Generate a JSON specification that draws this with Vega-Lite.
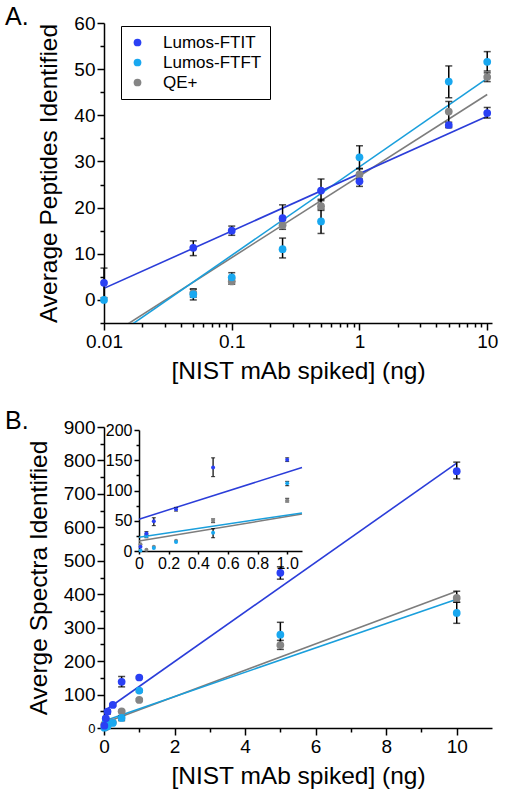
{
  "$schema": "https://vega.github.io/schema/vega-lite/v6.json",
  "background": "white",
  "padding": {"left": 5, "top": 5, "right": 5, "bottom": 5},
  "spacing": 26,
  "config": {
    "font": "Liberation Sans",
    "view": {"stroke": null},
    "axis": {
      "grid": false,
      "domainColor": "black",
      "domainWidth": 1.5,
      "tickColor": "black",
      "tickWidth": 1.5,
      "tickSize": 7,
      "labelColor": "black",
      "titleColor": "black",
      "labelFont": "Liberation Sans",
      "titleFont": "Liberation Sans",
      "labelFontSize": 19,
      "titleFontSize": 24.5,
      "titleFontWeight": "normal",
      "labelPadding": 2
    },
    "title": {"font": "Liberation Sans", "fontSize": 25, "fontWeight": "normal", "color": "black", "anchor": "start", "frame": "group"},
    "legend": {"labelFont": "Liberation Sans"}
  },
  "datasets": {
    "points": [
      {"panel": "A", "series": "QE+", "x": 0.05, "y": 1.5, "lo": 0.6, "hi": 2.4},
      {"panel": "A", "series": "QE+", "x": 0.1, "y": 4.0, "lo": 3.4, "hi": 4.6},
      {"panel": "A", "series": "QE+", "x": 0.25, "y": 16.2, "lo": 15.3, "hi": 17.2},
      {"panel": "A", "series": "QE+", "x": 0.5, "y": 20.3, "lo": 19.4, "hi": 21.8},
      {"panel": "A", "series": "QE+", "x": 1, "y": 27.2, "lo": 26.2, "hi": 28.4},
      {"panel": "A", "series": "QE+", "x": 5, "y": 40.8, "lo": 37.5, "hi": 43.0},
      {"panel": "A", "series": "QE+", "x": 10, "y": 48.3, "lo": 47.3, "hi": 49.2},
      {"panel": "A", "series": "Lumos-FTFT", "x": 0.01, "y": 0.0, "lo": null, "hi": null},
      {"panel": "A", "series": "Lumos-FTFT", "x": 0.05, "y": 1.2, "lo": 0.0, "hi": 2.3},
      {"panel": "A", "series": "Lumos-FTFT", "x": 0.1, "y": 4.9, "lo": 4.0, "hi": 5.9},
      {"panel": "A", "series": "Lumos-FTFT", "x": 0.25, "y": 11.0, "lo": 9.1, "hi": 13.4},
      {"panel": "A", "series": "Lumos-FTFT", "x": 0.5, "y": 17.0, "lo": 14.4, "hi": 19.7},
      {"panel": "A", "series": "Lumos-FTFT", "x": 1, "y": 30.9, "lo": 28.5, "hi": 33.4},
      {"panel": "A", "series": "Lumos-FTFT", "x": 5, "y": 47.3, "lo": 43.8, "hi": 50.7},
      {"panel": "A", "series": "Lumos-FTFT", "x": 10, "y": 51.6, "lo": 49.6, "hi": 53.8},
      {"panel": "A", "series": "Lumos-FTIT", "x": 0.01, "y": 3.7, "lo": 0.5, "hi": 6.9},
      {"panel": "A", "series": "Lumos-FTIT", "x": 0.05, "y": 11.3, "lo": 9.6, "hi": 12.8},
      {"panel": "A", "series": "Lumos-FTIT", "x": 0.1, "y": 15.0, "lo": 14.0, "hi": 16.0},
      {"panel": "A", "series": "Lumos-FTIT", "x": 0.25, "y": 17.7, "lo": 16.2, "hi": 20.6},
      {"panel": "A", "series": "Lumos-FTIT", "x": 0.5, "y": 23.7, "lo": 21.5, "hi": 26.2},
      {"panel": "A", "series": "Lumos-FTIT", "x": 1, "y": 25.7, "lo": 24.6, "hi": 27.4},
      {"panel": "A", "series": "Lumos-FTIT", "x": 5, "y": 37.9, "lo": 37.3, "hi": 38.5},
      {"panel": "A", "series": "Lumos-FTIT", "x": 10, "y": 40.5, "lo": 39.4, "hi": 41.7},
      {"panel": "B", "series": "QE+", "x": 0.01, "y": 11, "lo": null, "hi": null},
      {"panel": "B", "series": "QE+", "x": 0.05, "y": 2, "lo": null, "hi": null},
      {"panel": "B", "series": "QE+", "x": 0.1, "y": 7, "lo": null, "hi": null},
      {"panel": "B", "series": "QE+", "x": 0.25, "y": 17, "lo": null, "hi": null},
      {"panel": "B", "series": "QE+", "x": 0.5, "y": 50, "lo": 47, "hi": 53},
      {"panel": "B", "series": "QE+", "x": 1, "y": 84, "lo": 81, "hi": 87},
      {"panel": "B", "series": "QE+", "x": 5, "y": 248, "lo": 235, "hi": 262},
      {"panel": "B", "series": "QE+", "x": 10, "y": 389, "lo": 376, "hi": 409},
      {"panel": "B", "series": "Lumos-FTFT", "x": 0.01, "y": 1, "lo": null, "hi": null},
      {"panel": "B", "series": "Lumos-FTFT", "x": 0.05, "y": 25, "lo": 22, "hi": 28},
      {"panel": "B", "series": "Lumos-FTFT", "x": 0.1, "y": 5, "lo": null, "hi": null},
      {"panel": "B", "series": "Lumos-FTFT", "x": 0.25, "y": 15, "lo": null, "hi": null},
      {"panel": "B", "series": "Lumos-FTFT", "x": 0.5, "y": 30, "lo": 22, "hi": 37},
      {"panel": "B", "series": "Lumos-FTFT", "x": 1, "y": 112, "lo": 108, "hi": 115},
      {"panel": "B", "series": "Lumos-FTFT", "x": 5, "y": 279, "lo": 245, "hi": 316},
      {"panel": "B", "series": "Lumos-FTFT", "x": 10, "y": 344, "lo": 313, "hi": 376},
      {"panel": "B", "series": "Lumos-FTIT", "x": 0.01, "y": 7, "lo": null, "hi": null},
      {"panel": "B", "series": "Lumos-FTIT", "x": 0.05, "y": 29, "lo": 26, "hi": 32},
      {"panel": "B", "series": "Lumos-FTIT", "x": 0.1, "y": 49, "lo": 42, "hi": 55},
      {"panel": "B", "series": "Lumos-FTIT", "x": 0.25, "y": 69, "lo": 66, "hi": 72},
      {"panel": "B", "series": "Lumos-FTIT", "x": 0.5, "y": 138, "lo": 123, "hi": 154},
      {"panel": "B", "series": "Lumos-FTIT", "x": 1, "y": 151, "lo": 148, "hi": 154},
      {"panel": "B", "series": "Lumos-FTIT", "x": 5, "y": 464, "lo": 445, "hi": 482},
      {"panel": "B", "series": "Lumos-FTIT", "x": 10, "y": 768, "lo": 745, "hi": 795}
    ],
    "fits": [
      {"panel": "A", "line": "QE+", "x": 0.01, "y": -8.5},
      {"panel": "A", "line": "QE+", "x": 10, "y": 44.5},
      {"panel": "A", "line": "Lumos-FTFT", "x": 0.01, "y": -9.5},
      {"panel": "A", "line": "Lumos-FTFT", "x": 10, "y": 48.0},
      {"panel": "A", "line": "Lumos-FTIT", "x": 0.01, "y": 2.5},
      {"panel": "A", "line": "Lumos-FTIT", "x": 10, "y": 39.8},
      {"panel": "B", "line": "QE+", "x": 0, "y": 15},
      {"panel": "B", "line": "QE+", "x": 10, "y": 409},
      {"panel": "B", "line": "Lumos-FTFT", "x": 0, "y": 21},
      {"panel": "B", "line": "Lumos-FTFT", "x": 10, "y": 385},
      {"panel": "B", "line": "Lumos-FTIT", "x": 0, "y": 50},
      {"panel": "B", "line": "Lumos-FTIT", "x": 10, "y": 792},
      {"panel": "Binset", "line": "QE+", "x": 0, "y": 16.6},
      {"panel": "Binset", "line": "QE+", "x": 1.1, "y": 61},
      {"panel": "Binset", "line": "Lumos-FTFT", "x": 0, "y": 22.9},
      {"panel": "Binset", "line": "Lumos-FTFT", "x": 1.1, "y": 62.9},
      {"panel": "Binset", "line": "Lumos-FTIT", "x": 0, "y": 52.6},
      {"panel": "Binset", "line": "Lumos-FTIT", "x": 1.1, "y": 138}
    ]
  },
  "resolve": {"scale": {"fill": "independent", "stroke": "independent"}, "legend": {"fill": "independent", "stroke": "independent"}},
  "vconcat": [
    {
      "title": {"text": "A.", "dx": -99, "offset": -16},
      "width": 388,
      "height": 300,
      "encoding": {
        "x": {
          "field": "x", "type": "quantitative", "title": "[NIST mAb spiked] (ng)",
          "scale": {"type": "log", "domain": [0.01, 10.9], "nice": false},
          "axis": {
            "values": [0.01, 0.02, 0.03, 0.04, 0.05, 0.06, 0.07, 0.08, 0.09, 0.1, 0.2, 0.3, 0.4, 0.5, 0.6, 0.7, 0.8, 0.9, 1, 2, 3, 4, 5, 6, 7, 8, 9, 10],
            "labelExpr": "abs(log(datum.value)/LN10 - round(log(datum.value)/LN10)) < 0.000001 ? format(datum.value, '~g') : ''",
            "tickDash": {"condition": {"test": "abs(log(datum.value)/LN10 - round(log(datum.value)/LN10)) < 0.000001", "value": []}, "value": [4, 20]},
            "labelFlush": false,
            "labelOverlap": false,
            "titlePadding": 8
          }
        },
        "y": {
          "field": "y", "type": "quantitative", "title": "Average Peptides Identified",
          "scale": {"domain": [-5, 60], "nice": false, "zero": false},
          "axis": {
            "values": [-5, 0, 5, 10, 15, 20, 25, 30, 35, 40, 45, 50, 55, 60],
            "labelExpr": "datum.value % 10 === 0 ? datum.label : ''",
            "tickDash": {"condition": {"test": "datum.value % 10 === 0", "value": []}, "value": [4, 20]},
            "labelFlush": false,
            "labelOverlap": false,
            "titlePadding": 12
          }
        }
      },
      "layer": [
        {
          "data": {"name": "fits"},
          "transform": [{"filter": "datum.panel === 'A'"}],
          "mark": {"type": "line", "clip": true, "strokeWidth": 1.6},
          "encoding": {
            "stroke": {"field": "line", "type": "nominal", "legend": null,
              "scale": {"domain": ["QE+", "Lumos-FTFT", "Lumos-FTIT"], "range": ["#7d7d7d", "#1a9fdc", "#2b3dd9"]}}
          }
        },
        {
          "data": {"name": "points"},
          "transform": [{"filter": "datum.panel === 'A' && datum.lo != null"}],
          "mark": {"type": "errorbar", "ticks": {"size": 7, "color": "black", "thickness": 1.5}, "rule": {"color": "black", "strokeWidth": 1.5}},
          "encoding": {
            "y": {"field": "lo", "type": "quantitative", "title": "Average Peptides Identified"},
            "y2": {"field": "hi"}
          }
        },
        {
          "data": {"name": "points"},
          "transform": [{"filter": "datum.panel === 'A'"}],
          "mark": {"type": "circle", "size": 60, "opacity": 1},
          "encoding": {
            "fill": {"field": "series", "type": "nominal",
              "scale": {"domain": ["Lumos-FTIT", "Lumos-FTFT", "QE+"], "range": ["#2a40f4", "#19a8f0", "#858585"]},
              "legend": {"title": null, "orient": "none", "legendX": 17, "legendY": 3, "strokeColor": "black", "padding": 8,
                "labelFontSize": 17, "labelOffset": 17, "symbolType": "circle", "symbolSize": 60, "rowPadding": 2, "symbolStrokeWidth": 0}
            }
          }
        }
      ]
    },
    {
      "title": {"text": "B.", "dx": -99, "offset": -16},
      "width": 388,
      "height": 301,
      "resolve": {"scale": {"x": "independent", "y": "independent"}, "axis": {"x": "independent", "y": "independent"}},
      "layer": [
        {
          "encoding": {
            "x": {
              "field": "x", "type": "quantitative", "title": "[NIST mAb spiked] (ng)",
              "scale": {"domain": [0, 11], "nice": false},
              "axis": {
                "values": [0, 1, 2, 3, 4, 5, 6, 7, 8, 9, 10],
                "labelExpr": "datum.value % 2 === 0 ? datum.label : ''",
                "tickDash": {"condition": {"test": "datum.value % 2 === 0", "value": []}, "value": [4, 20]},
                "labelFlush": false,
                "labelOverlap": false,
                "titlePadding": 8
              }
            },
            "y": {
              "field": "y", "type": "quantitative", "title": "Averge Spectra Identified",
              "scale": {"domain": [0, 900], "nice": false},
              "axis": {
                "values": [0, 50, 100, 150, 200, 250, 300, 350, 400, 450, 500, 550, 600, 650, 700, 750, 800, 850, 900],
                "labelExpr": "datum.value % 100 === 0 ? datum.label : ''",
                "labelFontSize": {"condition": {"test": "datum.value === 0", "value": 13}, "value": 19},
                "tickDash": {"condition": {"test": "datum.value % 100 === 0", "value": []}, "value": [4, 20]},
                "labelFlush": false,
                "labelOverlap": false,
                "titlePadding": 12
              }
            }
          },
          "layer": [
            {
              "data": {"name": "fits"},
              "transform": [{"filter": "datum.panel === 'B'"}],
              "mark": {"type": "line", "strokeWidth": 1.6},
              "encoding": {
                "stroke": {"field": "line", "type": "nominal", "legend": null,
                  "scale": {"domain": ["QE+", "Lumos-FTFT", "Lumos-FTIT"], "range": ["#7d7d7d", "#1a9fdc", "#2b3dd9"]}}
              }
            },
            {
              "data": {"name": "points"},
              "transform": [{"filter": "datum.panel === 'B' && datum.lo != null"}],
              "mark": {"type": "errorbar", "ticks": {"size": 7, "color": "black", "thickness": 1.5}, "rule": {"color": "black", "strokeWidth": 1.5}},
              "encoding": {
                "y": {"field": "lo", "type": "quantitative", "title": "Averge Spectra Identified"},
                "y2": {"field": "hi"}
              }
            },
            {
              "data": {"name": "points"},
              "transform": [{"filter": "datum.panel === 'B'"}],
              "mark": {"type": "circle", "size": 60, "opacity": 1},
              "encoding": {
                "fill": {"field": "series", "type": "nominal", "legend": null,
                  "scale": {"domain": ["Lumos-FTIT", "Lumos-FTFT", "QE+"], "range": ["#2a40f4", "#19a8f0", "#858585"]}}
              }
            }
          ]
        },
        {
          "encoding": {
            "x": {
              "field": "x", "type": "quantitative", "title": null,
              "scale": {"domain": [0, 1.1], "range": [35, 198], "nice": false},
              "axis": {
                "orient": "bottom", "offset": -177,
                "values": [0, 0.2, 0.4, 0.6, 0.8, 1.0],
                "labelExpr": "datum.value === 0 ? '0' : format(datum.value, '.1f')",
                "labelFontSize": 16, "tickSize": 3, "labelPadding": 1,
                "labelFlush": false, "labelOverlap": false
              }
            },
            "y": {
              "field": "y", "type": "quantitative", "title": null,
              "scale": {"domain": [0, 200], "range": [124, 3], "nice": false},
              "axis": {
                "orient": "left", "offset": -35,
                "values": [0, 25, 50, 75, 100, 125, 150, 175, 200],
                "labelExpr": "datum.value % 50 === 0 ? datum.label : ''",
                "tickSize": 5,
                "tickDash": {"condition": {"test": "datum.value % 50 === 0", "value": []}, "value": [3, 20]},
                "labelFontSize": 16,
                "labelFlush": false, "labelOverlap": false
              }
            }
          },
          "layer": [
            {
              "data": {"name": "fits"},
              "transform": [{"filter": "datum.panel === 'Binset'"}],
              "mark": {"type": "line", "strokeWidth": 1.5},
              "encoding": {
                "stroke": {"field": "line", "type": "nominal", "legend": null,
                  "scale": {"domain": ["QE+", "Lumos-FTFT", "Lumos-FTIT"], "range": ["#7d7d7d", "#1a9fdc", "#2b3dd9"]}}
              }
            },
            {
              "data": {"name": "points"},
              "transform": [{"filter": "datum.panel === 'B' && datum.x <= 1 && datum.lo != null"}],
              "mark": {"type": "errorbar", "ticks": {"size": 4, "color": "black", "thickness": 1.2}, "rule": {"color": "black", "strokeWidth": 1.2}},
              "encoding": {
                "y": {"field": "lo", "type": "quantitative", "title": null},
                "y2": {"field": "hi"}
              }
            },
            {
              "data": {"name": "points"},
              "transform": [{"filter": "datum.panel === 'B' && datum.x <= 1"}],
              "mark": {"type": "circle", "size": 16, "opacity": 1},
              "encoding": {
                "fill": {"field": "series", "type": "nominal", "legend": null,
                  "scale": {"domain": ["Lumos-FTIT", "Lumos-FTFT", "QE+"], "range": ["#2a40f4", "#19a8f0", "#555555"]}}
              }
            }
          ]
        }
      ]
    }
  ]
}
